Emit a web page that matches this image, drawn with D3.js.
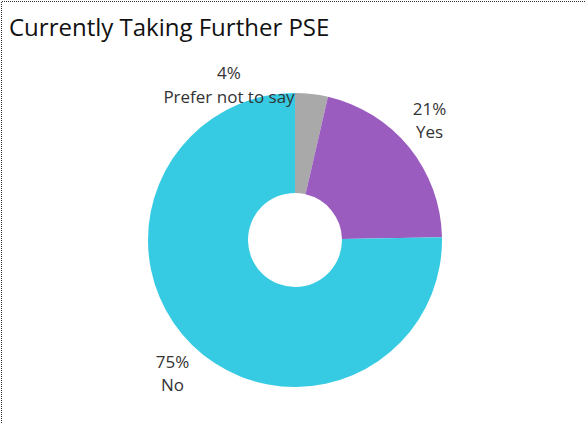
<!DOCTYPE html>
<html><head><meta charset="utf-8">
<script src="https://cdn.jsdelivr.net/npm/d3@7"></script>
<style>body{margin:0;background:#fff}svg{display:block}</style>
</head><body>
<script>
const categories = ["Prefer not to say", "Yes", "No"];
const values = [3.6, 21.1, 75.3];
const labels = ["4%", "21%", "75%"];
const colors = ["#a9a9a9", "#9b5cbf", "#37cbe3"];
const title = "Currently Taking Further PSE";

const W = 586, H = 423;
const svg = d3.select("body").append("svg").attr("width", W).attr("height", H);

// dotted border
svg.append("path").attr("d", `M1.5,${H} V1.5 H${W}`)
  .attr("fill", "none").attr("stroke", "#333").attr("stroke-width", 1).attr("stroke-dasharray", "1,1");

svg.append("text").attr("x", 9).attr("y", 36).text(title)
  .attr("font-family", "Open Sans, sans-serif").attr("font-size", 24).attr("fill", "#111");

const cx = 295, cy = 240, R = 147, r0 = 47;
const data = categories.map((c, i) => ({cat: c, value: values[i], label: labels[i], color: colors[i]}));
const pie = d3.pie().value(d => d.value).sort(null);
const arc = d3.arc().innerRadius(r0).outerRadius(R);
const g = svg.append("g").attr("transform", `translate(${cx},${cy})`);
g.selectAll("path").data(pie(data)).join("path").attr("d", arc).attr("fill", d => d.data.color);

// [x, baseline of value, baseline of category]
const labelPos = [[229, 79, 102.5], [429.5, 115, 138], [172.5, 368, 391]];
data.forEach((d, i) => {
  const p = labelPos[i];
  svg.append("text").attr("x", p[0]).attr("y", p[1]).attr("text-anchor", "middle").text(d.label)
    .attr("font-family", "Open Sans, sans-serif").attr("font-size", 17).attr("fill", "#333");
  svg.append("text").attr("x", p[0]).attr("y", p[2]).attr("text-anchor", "middle").text(d.cat)
    .attr("font-family", "Open Sans, sans-serif").attr("font-size", 17).attr("fill", "#333");
});
</script>
</body></html>
